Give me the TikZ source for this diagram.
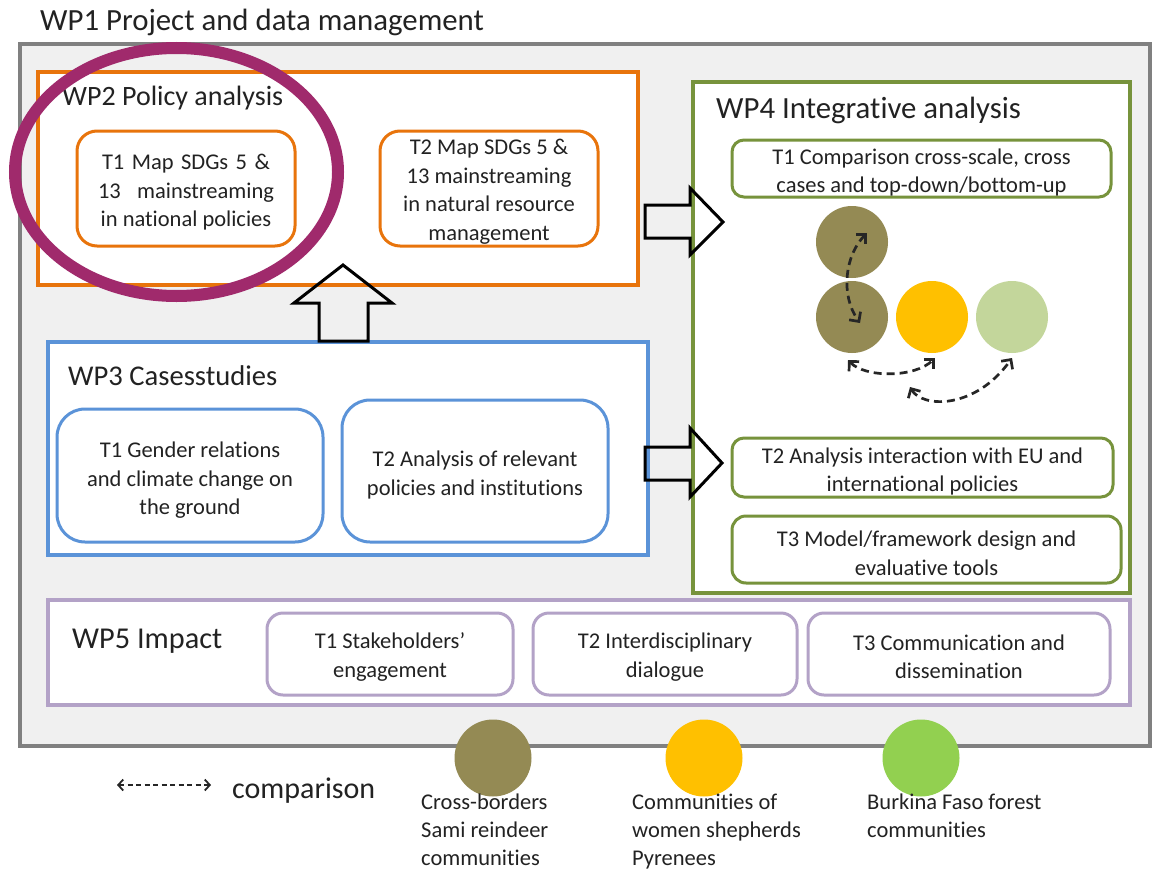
\documentclass[tikz,border=0pt]{standalone}
\usepackage{fontspec}
\setmainfont{Carlito}[Ligatures=NoCommon]
\usetikzlibrary{arrows.meta,calc}
\definecolor{txt}{HTML}{222222}
\definecolor{outerfill}{HTML}{F0F0F0}
\definecolor{outerdraw}{HTML}{808080}
\definecolor{wporange}{HTML}{E8740C}
\definecolor{wpblue}{HTML}{5B93D8}
\definecolor{wpgreen}{HTML}{77933C}
\definecolor{wppurple}{HTML}{B3A2C7}
\definecolor{ringcol}{HTML}{A02A6C}
\definecolor{olivec}{HTML}{948A54}
\definecolor{goldc}{HTML}{FFC000}
\definecolor{paleg}{HTML}{C3D69B}
\definecolor{brightg}{HTML}{92D050}
\newcommand\tasksz{\fontsize{22.5}{28.5}\selectfont}
\newcommand\legsz{\fontsize{22.5}{28}\selectfont}
\tikzset{
  wpbox/.style={rectangle, draw, line width=3.5pt, fill=white, inner sep=0pt},
  task/.style={rectangle, draw, line width=3pt, fill=white, inner sep=0pt},
  tasklbl/.style={inner sep=0pt, align=center, font=\tasksz, text=txt},
  title/.style={inner sep=0pt, text=txt, anchor=base west},
  blockarrow/.style={draw=black, line width=3pt, line join=miter},
  dot/.style={circle, inner sep=0pt, minimum size=72pt},
  ldot/.style={circle, inner sep=0pt, minimum size=77pt},
  cmp/.style={line width=2.7pt, dash pattern=on 8pt off 5pt, black!85,
    arrows={Straight Barb[length=7pt,width=14pt,line width=2.7pt]-Straight Barb[length=7pt,width=14pt,line width=2.7pt]}},
  legtext/.style={inner sep=0pt, align=left, font=\legsz, text=txt, anchor=base west}
}
\begin{document}
\begin{tikzpicture}[x=1pt,y=-1pt]
\useasboundingbox (0,0) rectangle (1158,872);
\fill[white] (0,0) rectangle (1158,872);

% WP1 outer
\node[title, font=\fontsize{30.8}{36}\selectfont] (wp1t) at (40,31) {WP1 Project and data management};
\node[rectangle, draw=outerdraw, fill=outerfill, line width=4pt, inner sep=0pt,
      minimum width=1130pt, minimum height=702pt] (wp1) at (585,395) {};

% WP2
\node[wpbox, draw=wporange, minimum width=600pt, minimum height=213pt] (wp2) at (338,178.5) {};
\node[title, font=\fontsize{28}{34}\selectfont] (wp2t) at (62,106) {WP2 Policy analysis};
\node[task, draw=wporange, rounded corners=20pt, minimum width=218pt, minimum height=115pt] (wp2a) at (186,188.5) {};
\path (wp2a.center) ++(0,4) node[tasklbl] (wp2al)
  {\makebox[168pt][s]{T1 Map SDGs 5 \&}\\\makebox[176pt][s]{13\enspace\ mainstreaming}\\in national policies};
\node[task, draw=wporange, rounded corners=20pt, minimum width=218pt, minimum height=115pt] (wp2b) at (489,188.5) {};
\path (wp2b.center) ++(0,3) node[tasklbl] (wp2bl)
  {T2 Map SDGs 5 \&\\13 mainstreaming\\in natural resource\\management};

% WP3
\node[wpbox, draw=wpblue, minimum width=600pt, minimum height=213pt] (wp3) at (348,448.5) {};
\node[title, font=\fontsize{28.6}{34}\selectfont] (wp3t) at (68,385) {WP3 Casesstudies};
\node[task, draw=wpblue, rounded corners=28pt, minimum width=266pt, minimum height=133pt] (wp3a) at (190,475.5) {};
\path (wp3a.center) ++(0,5) node[tasklbl] (wp3al)
  {T1 Gender relations\\and climate change on\\the ground};
\node[task, draw=wpblue, rounded corners=28pt, minimum width=266pt, minimum height=142pt] (wp3b) at (475,471) {};
\path (wp3b.center) ++(0,4) node[tasklbl] (wp3bl)
  {T2 Analysis of relevant\\policies and institutions};

% WP4
\node[wpbox, draw=wpgreen, minimum width=437pt, minimum height=511pt] (wp4) at (911.5,337.5) {};
\node[title, font=\fontsize{30.8}{36}\selectfont] (wp4t) at (716,119) {WP4 Integrative analysis};
\node[task, draw=wpgreen, rounded corners=12pt, minimum width=379pt, minimum height=57pt] (wp4a) at (921.5,168.5) {};
\path (wp4a.center) ++(0,4) node[tasklbl] (wp4al)
  {T1 Comparison cross-scale, cross\\cases and top-down/bottom-up};
\node[task, draw=wpgreen, rounded corners=12pt, minimum width=381pt, minimum height=59pt] (wp4b) at (922.5,467.5) {};
\path (wp4b.center) ++(0,4) node[tasklbl] (wp4bl)
  {T2 Analysis interaction with EU and\\international policies};
\node[task, draw=wpgreen, rounded corners=14pt, minimum width=389pt, minimum height=67pt] (wp4c) at (926.5,549.5) {};
\path (wp4c.center) ++(0,4) node[tasklbl] (wp4cl)
  {T3 Model/framework design and\\evaluative tools};

% circles in WP4
\node[dot, fill=olivec] (c1t) at (852,242) {};
\node[dot, fill=olivec] (c1) at (852,317) {};
\node[dot, fill=goldc] (c2) at (932,317) {};
\node[dot, fill=paleg] (c3) at (1012,317) {};

\coordinate (a1s) at ($(c1t.center)+(15,-9)$);
\coordinate (a1e) at ($(c1.center)+(8,6)$);
\coordinate (a2s) at ($(c1.center)+(-4,43)$);
\coordinate (a2e) at ($(c2.center)+(3,41)$);
\coordinate (a3s) at ($(c2.center)+(-22,70)$);
\coordinate (a3e) at ($(c3.center)+(0,41)$);
\draw[cmp] (a1s) .. controls +(-22,22) and +(-20,-28) .. (a1e);
\draw[cmp] (a2s) .. controls +(17,18) and +(-20,20) .. (a2e);
\draw[cmp] (a3s) .. controls +(12,21) and +(-37,52) .. (a3e);

% WP5
\node[wpbox, draw=wppurple, minimum width=1082pt, minimum height=105pt] (wp5) at (589,652.5) {};
\node[title, font=\fontsize{30.3}{36}\selectfont] (wp5t) at (72,648) {WP5 Impact};
\node[task, draw=wppurple, rounded corners=16pt, minimum width=246pt, minimum height=82pt] (wp5a) at (390,654) {};
\path (wp5a.center) ++(0,3) node[tasklbl] (wp5al) {T1 Stakeholders’\\engagement};
\node[task, draw=wppurple, rounded corners=16pt, minimum width=264pt, minimum height=82pt] (wp5b) at (665,654) {};
\path (wp5b.center) ++(0,3) node[tasklbl] (wp5bl) {T2 Interdisciplinary\\dialogue};
\node[task, draw=wppurple, rounded corners=16pt, minimum width=302pt, minimum height=82pt] (wp5c) at (959,654) {};
\path (wp5c.center) ++(0,3) node[tasklbl] (wp5cl) {T3 Communication and\\dissemination};

% block arrows
\draw[blockarrow] (319,341) -- (319,303) -- (294,303) -- (343,265) -- (392,303) -- (368,303) -- (368,341) -- cycle;
\draw[blockarrow] (645,205) -- (690,205) -- (690,188) -- (723,222) -- (690,255) -- (690,238) -- (645,238) -- cycle;
\draw[blockarrow] (645,447) -- (690,447) -- (690,428) -- (722,463) -- (690,497) -- (690,480) -- (645,480) -- cycle;

% highlight ring
\draw[ringcol, line width=12pt] (176.5,172) ellipse [x radius=161.5, y radius=124];

% legend
\coordinate (lgs) at (117,785);
\coordinate (lge) at (211,785);
\draw[line width=1.8pt, dash pattern=on 5pt off 3.5pt, black!85,
  arrows={Straight Barb[length=5pt,width=11pt,line width=1.8pt]-Straight Barb[length=5pt,width=11pt,line width=1.8pt]}] (lgs) -- (lge);
\node[title, font=\fontsize{30}{36}\selectfont] (cmpt) at (232,798) {comparison};

\node[ldot, fill=olivec] (l1) at (493,758) {};
\node[ldot, fill=goldc] (l2) at (704,758) {};
\node[ldot, fill=brightg] (l3) at (921,758) {};
\node[legtext] (l1t) at (421,865) {Cross-borders\\Sami reindeer\\communities};
\node[legtext] (l2t) at (632,865) {Communities of\\women shepherds\\Pyrenees};
\node[legtext] (l3t) at (867,837) {Burkina Faso forest\\communities};
\end{tikzpicture}
\end{document}
